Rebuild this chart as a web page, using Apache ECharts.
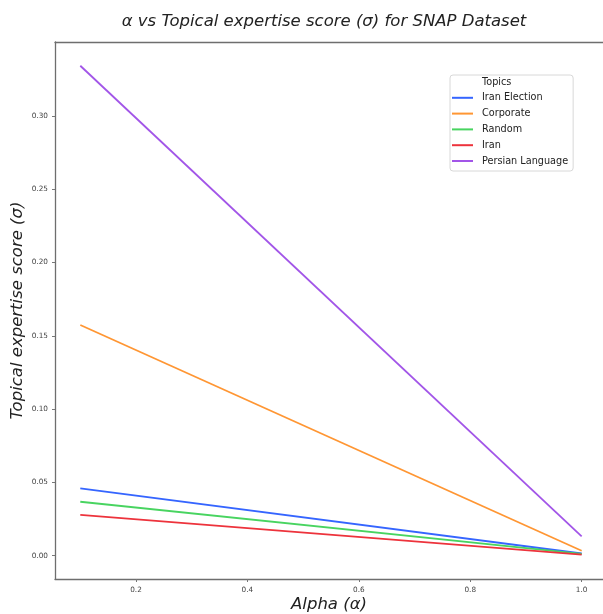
<!DOCTYPE html>
<html>
<head>
<meta charset="utf-8">
<script src="https://cdn.jsdelivr.net/npm/echarts@6/dist/echarts.min.js"></script>
<style>
  html, body { margin: 0; padding: 0; background: #fff; }
  #chart { width: 603px; height: 614px; }
</style>
</head>
<body>
<div id="chart"></div>
<script>
// values
const alpha = [0.1, 1.0]
const iranElection = [0.0460, 0.0015]
const corporate = [0.1574, 0.0034]
const random = [0.0368, 0.0012]
const iran = [0.0278, 0.0008]
const persianLanguage = [0.3343, 0.0132]
const topics = ['Iran Election', 'Corporate', 'Random', 'Iran', 'Persian Language']
const topicValues = [iranElection, corporate, random, iran, persianLanguage]
const topicColors = ['#3565ff', '#ff9633', '#48d460', '#ed333c', '#a255e8']
const xTicks = [0.2, 0.4, 0.6, 0.8, 1.0]
const yTicks = [0, 0.05, 0.10, 0.15, 0.20, 0.25, 0.30]

const font = 'DejaVu Sans'
const spine = { show: true, onZero: false, lineStyle: { color: '#6e6e6e', width: 1.3 } }
const chart = echarts.init(document.getElementById('chart'))

const series = [{
  // seaborn-style legend header entry without a handle
  name: 'Topics',
  type: 'line',
  data: [],
  itemStyle: { color: 'rgba(0,0,0,0)' },
  lineStyle: { color: 'rgba(0,0,0,0)' }
}]
topics.forEach((name, i) => {
  series.push({
    name: name,
    type: 'line',
    data: alpha.map((a, j) => [a, topicValues[i][j]]),
    showSymbol: false,
    symbol: 'none',
    lineStyle: { width: 1.8, color: topicColors[i] },
    itemStyle: { color: topicColors[i] }
  })
})

chart.setOption({
  animation: false,
  backgroundColor: '#fff',
  title: {
    text: 'α vs Topical expertise score (σ) for SNAP Dataset',
    left: 319,
    textAlign: 'center',
    top: 8,
    textStyle: { fontFamily: font, fontStyle: 'italic', fontWeight: 'normal', fontSize: 16.5, color: '#222' }
  },
  legend: {
    orient: 'vertical',
    left: 450,
    top: 75,
    data: ['Topics'].concat(topics),
    icon: 'rect',
    itemWidth: 21,
    itemHeight: 2,
    itemGap: 1.8,
    padding: [0, 5, 3, 2],
    backgroundColor: '#fff',
    borderColor: '#d8d8d8',
    borderWidth: 1,
    borderRadius: 3,
    textStyle: { fontFamily: font, fontSize: 9.7, color: '#222', lineHeight: 14, padding: [0, 0, 0, 4] }
  },
  grid: {
    left: 55,
    top: 42,
    right: 0,
    bottom: 35,
    show: false,
    containLabel: false,
    outerBoundsMode: 'none'
  },
  xAxis: [{
    type: 'value',
    min: 0.0546,
    max: 1.0383,
    name: 'Alpha (α)',
    nameLocation: 'middle',
    nameGap: 17,
    nameMoveOverlap: false,
    nameTextStyle: { fontFamily: font, fontStyle: 'italic', fontSize: 16.5, color: '#222' },
    axisLine: spine,
    splitLine: { show: false },
    axisTick: { show: true, customValues: xTicks, length: 3, lineStyle: { color: '#777' } },
    axisLabel: {
      customValues: xTicks,
      margin: 8,
      fontFamily: font,
      fontSize: 7.3,
      color: '#444',
      formatter: v => v.toFixed(1)
    }
  }, {
    // top spine only
    type: 'value',
    position: 'top',
    min: 0.0546,
    max: 1.0383,
    axisLine: spine,
    axisTick: { show: false },
    axisLabel: { show: false },
    splitLine: { show: false }
  }],
  yAxis: {
    type: 'value',
    min: -0.0159,
    max: 0.3505,
    name: 'Topical expertise score (σ)',
    nameLocation: 'middle',
    nameGap: 29,
    nameMoveOverlap: false,
    nameTextStyle: { fontFamily: font, fontStyle: 'italic', fontSize: 16.5, color: '#222' },
    axisLine: spine,
    splitLine: { show: false },
    axisTick: { show: true, customValues: yTicks, length: 3, lineStyle: { color: '#777' } },
    axisLabel: {
      customValues: yTicks,
      margin: 7,
      fontFamily: font,
      fontSize: 7.3,
      color: '#444',
      formatter: v => v.toFixed(2)
    }
  },
  series: series
})
</script>
</body>
</html>
